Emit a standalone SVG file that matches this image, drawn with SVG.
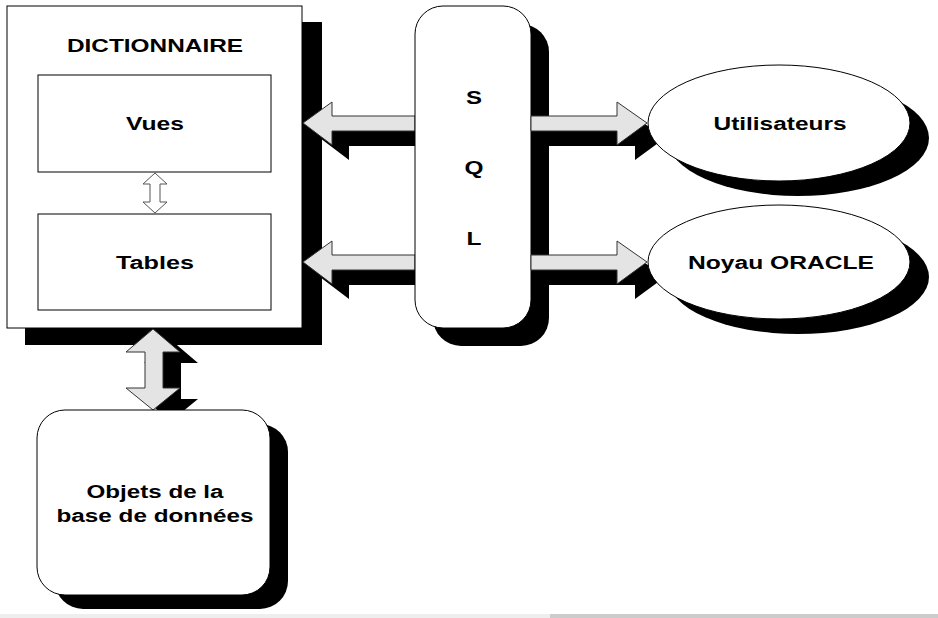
<svg xmlns="http://www.w3.org/2000/svg" width="938" height="618" viewBox="0 0 938 618">
<style>
.shadow{fill:#000;stroke:none}
.box{fill:#fff;stroke:#000;stroke-width:1}
.arrow{fill:#e4e4e4;stroke:#333;stroke-width:1;stroke-linejoin:miter}
.small{fill:#fff;stroke:#555;stroke-width:1}
.t{font-family:"Liberation Sans",Arial,sans-serif;font-weight:bold;font-size:18px;fill:#000;text-anchor:middle}
</style>
<defs>
<polygon id="arrL" points="303,123 332,102 332,116 415,116 415,131 332,131 332,145"/>
<polygon id="arrR" points="531,116 617,116 617,102 647,123 617,145 617,131 531,131"/>
<polygon id="arrV" points="153,329 180,352 163,352 163,388 180,388 153,410 126,388 145,388 145,352 126,352"/>
</defs>

<g id="dictionnaire">
<rect class="shadow" x="25" y="22" width="297" height="323"/>
<rect class="box" x="7" y="6" width="295" height="322"/>
<text class="t" x="155" y="52" textLength="176" lengthAdjust="spacingAndGlyphs">DICTIONNAIRE</text>
</g>
<g id="vues">
<rect class="box" x="38" y="75" width="233" height="97"/>
<text class="t" x="155" y="130" textLength="58" lengthAdjust="spacingAndGlyphs">Vues</text>
</g>
<g id="tables">
<rect class="box" x="38" y="214" width="233" height="96"/>
<text class="t" x="155" y="269" textLength="78" lengthAdjust="spacingAndGlyphs">Tables</text>
</g>

<g id="connectors">
<polygon class="small" points="155,173 167,184 160,184 160,202 167,202 155,213 143,202 150,202 150,184 143,184"/>
<use href="#arrV" class="shadow" transform="translate(18,11)"/>
<use href="#arrV" class="arrow"/>
<rect class="shadow" x="433" y="24" width="116" height="322" rx="28"/>
<use href="#arrL" class="shadow" transform="translate(17,15)"/>
<use href="#arrL" class="arrow"/>
<use href="#arrL" class="shadow" transform="translate(17,154)"/>
<use href="#arrL" class="arrow" transform="translate(0,139)"/>
</g>

<g id="sql">
<rect class="box" x="415" y="6" width="116" height="322" rx="28"/>
<text class="t" x="474" y="104" textLength="16" lengthAdjust="spacingAndGlyphs">S</text>
<text class="t" x="474" y="174" textLength="19" lengthAdjust="spacingAndGlyphs">Q</text>
<text class="t" x="474" y="245" textLength="15" lengthAdjust="spacingAndGlyphs">L</text>
</g>

<g id="connectors-right">
<use href="#arrR" class="shadow" transform="translate(18,15)"/>
<use href="#arrR" class="arrow"/>
<use href="#arrR" class="shadow" transform="translate(18,154)"/>
<use href="#arrR" class="arrow" transform="translate(0,139)"/>
</g>

<g id="utilisateurs">
<ellipse class="shadow" cx="798" cy="138" rx="131" ry="58"/>
<ellipse class="box" cx="779" cy="123" rx="131" ry="58"/>
<text class="t" x="780" y="130" textLength="133" lengthAdjust="spacingAndGlyphs">Utilisateurs</text>
</g>
<g id="noyau">
<ellipse class="shadow" cx="798" cy="277" rx="131" ry="57"/>
<ellipse class="box" cx="779" cy="262" rx="131" ry="57"/>
<text class="t" x="781" y="269" textLength="186" lengthAdjust="spacingAndGlyphs">Noyau ORACLE</text>
</g>

<g id="objets">
<rect class="shadow" x="55" y="424" width="233" height="185" rx="28"/>
<rect class="box" x="37" y="410" width="233" height="185" rx="28"/>
<text class="t" x="155" y="498" textLength="137" lengthAdjust="spacingAndGlyphs">Objets de la</text>
<text class="t" x="155" y="522" textLength="197" lengthAdjust="spacingAndGlyphs">base de données</text>
</g>

<rect x="0" y="614" width="550" height="4" fill="#eeeeee"/>
<rect x="550" y="614" width="388" height="4" fill="#cccccc"/>
</svg>
